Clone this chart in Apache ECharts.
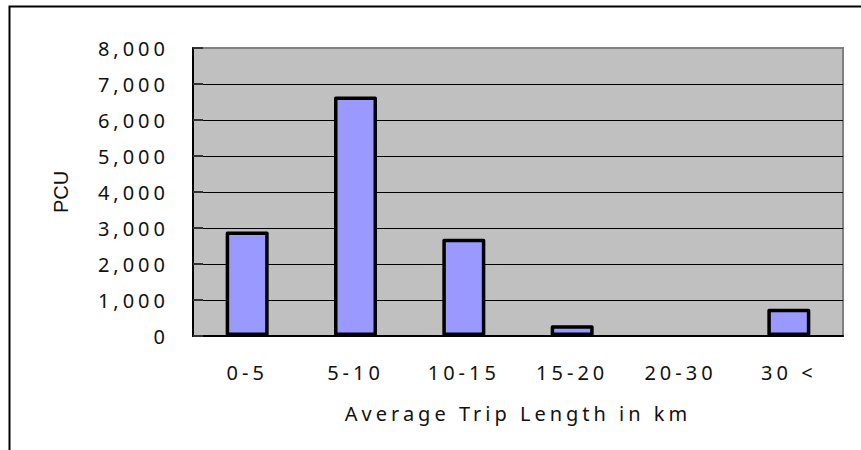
<!DOCTYPE html>
<html>
<head>
<meta charset="utf-8">
<script src="https://cdn.jsdelivr.net/npm/echarts@6/dist/echarts.min.js"></script>
<style>
  html, body { margin: 0; padding: 0; background: #fff; }
  #chart { width: 861px; height: 450px; }
  /* wide tracking for tick labels and the axis title */
  #chart text { letter-spacing: 4px; }
  #chart text[style*="Liberation"] { letter-spacing: 0; }
</style>
</head>
<body>
<div id="chart"></div>
<script>
// Trip length bands (km) and traffic volume in PCU
const categories = ['0-5', '5-10', '10-15', '15-20', '20-30', '30 <'];
const pcu = [2900, 6650, 2700, 300, 0, 760];

// Value axis range
const yMin = 0;
const yMax = 8000;
const yStep = 1000;

const labelFont = { fontFamily: 'Noto Sans', fontSize: 20, color: '#111' };

const chart = echarts.init(document.getElementById('chart'), null, { renderer: 'svg' });

chart.setOption({
  animation: false,
  backgroundColor: '#fff',
  graphic: [{
    type: 'rect',
    silent: true,
    shape: { x: 9.5, y: 6.5, width: 900, height: 500 },
    style: { fill: 'none', stroke: '#000', lineWidth: 2 }
  }],
  grid: {
    left: 193, top: 48, right: 18, bottom: 114,
    show: true,
    backgroundColor: '#c0c0c0',
    borderColor: '#808080',
    borderWidth: 2
  },
  xAxis: {
    type: 'category',
    data: categories,
    boundaryGap: true,
    axisLine: { lineStyle: { color: '#000', width: 2 } },
    axisTick: { inside: true, length: 9, lineStyle: { color: '#000', width: 1.5 } },
    axisLabel: Object.assign({ margin: 26 }, labelFont),
    name: 'Average Trip Length in km',
    nameLocation: 'middle',
    nameGap: 67,
    nameTextStyle: Object.assign({}, labelFont)
  },
  yAxis: {
    type: 'value',
    min: yMin,
    max: yMax,
    interval: yStep,
    axisLine: { show: true, lineStyle: { color: '#000', width: 2 } },
    axisTick: { show: true, inside: true, length: 10, lineStyle: { color: '#333', width: 2 } },
    splitLine: { show: true, showMaxLine: false, lineStyle: { color: '#000', width: 1 } },
    axisLabel: Object.assign({
      margin: 24,
      formatter: v => v.toLocaleString('en-US')
    }, labelFont),
    name: 'PCU',
    nameLocation: 'middle',
    nameRotate: 90,
    nameGap: 122,
    nameTextStyle: { fontFamily: 'Liberation Sans', fontSize: 20, color: '#111' }
  },
  series: [{
    type: 'bar',
    barWidth: 43,
    data: pcu.map(v => v === 0 ? { value: v, itemStyle: { borderWidth: 0 } } : v),
    itemStyle: {
      color: '#9999ff',
      borderColor: '#000',
      borderWidth: 3.5,
      borderJoin: 'round'
    }
  }]
});
</script>
</body>
</html>
